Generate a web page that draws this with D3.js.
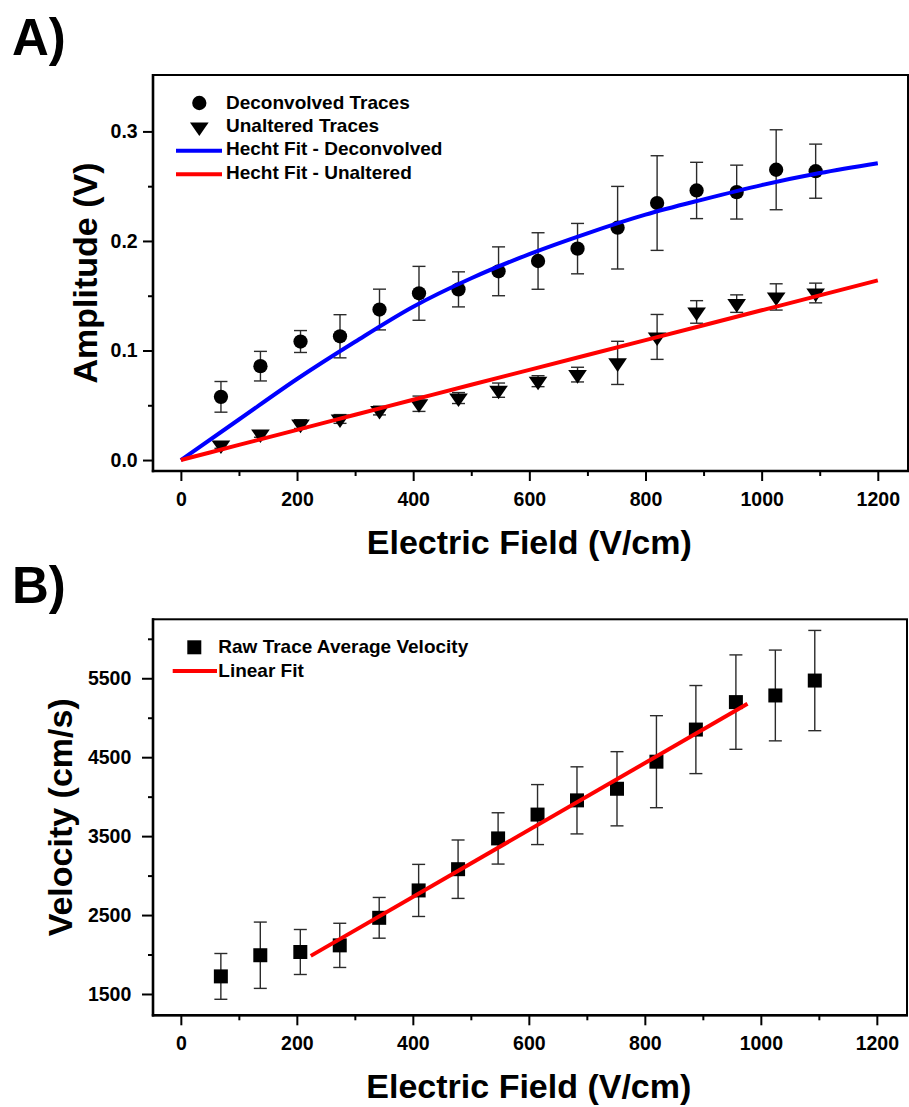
<!DOCTYPE html>
<html>
<head>
<meta charset="utf-8">
<script src="https://cdn.jsdelivr.net/npm/d3@7"></script>
<style>
  html, body { margin: 0; padding: 0; background: #fff; }
  svg { display: block; }
</style>
</head>
<body>
<svg id="chart" width="909" height="1107"></svg>
<script>
// ---- Data -------------------------------------------------------------
// Applied electric field for each measurement (V/cm)
const fieldValues = [69, 137, 206, 274, 342, 410, 478, 547, 615, 683, 752, 820, 888, 957, 1025, 1093];

// Panel A: pulse amplitude (V)
const deconvolvedAmp = [0.0577, 0.0857, 0.1082, 0.1130, 0.1374, 0.1522, 0.1558, 0.1723, 0.1817, 0.1930, 0.2121, 0.2346, 0.2461, 0.2446, 0.2650, 0.2637];
const deconvolvedErr = [0.0140, 0.0135, 0.0100, 0.0197, 0.0186, 0.0246, 0.0160, 0.0223, 0.0258, 0.0230, 0.0377, 0.0432, 0.0257, 0.0246, 0.0365, 0.0247];
const unalteredAmp   = [0.0137, 0.0238, 0.0328, 0.0375, 0.0452, 0.0514, 0.0566, 0.0638, 0.0720, 0.0780, 0.0887, 0.1124, 0.1352, 0.1428, 0.1489, 0.1525];
const unalteredErr   = [0.0030, 0.0030, 0.0040, 0.0040, 0.0040, 0.0070, 0.0050, 0.0065, 0.0050, 0.0067, 0.0197, 0.0205, 0.0103, 0.0080, 0.0120, 0.0090];

// Hecht fit curves, sampled every 100 V/cm
const hechtField       = [0, 100, 200, 300, 400, 500, 600, 700, 800, 900, 1000, 1100, 1200];
const hechtDeconvolved = [0, 0.037, 0.074, 0.108, 0.140, 0.166, 0.188, 0.207, 0.224, 0.238, 0.251, 0.262, 0.271];
const hechtUnaltered   = [0, 0.0138, 0.0276, 0.0413, 0.0550, 0.0687, 0.0823, 0.0959, 0.1095, 0.1231, 0.1367, 0.1503, 0.1640];

// Panel B: raw trace average velocity (cm/s)
const velocity    = [1723, 1991, 2032, 2116, 2465, 2812, 3081, 3471, 3773, 3953, 4100, 4443, 4850, 5198, 5282, 5471];
const velocityErr = [290, 420, 285, 280, 258, 330, 370, 325, 380, 425, 470, 583, 558, 598, 575, 635];

// Linear fit end points
const linearFitField    = [224, 977];
const linearFitVelocity = [1983, 5176];

// Axis ticks
const fieldMajorTicks = [0, 200, 400, 600, 800, 1000, 1200];
const fieldMinorTicks = [100, 300, 500, 700, 900, 1100];
const ampMajorTicks   = [0, 0.1, 0.2, 0.3];
const ampMinorTicks   = [0.05, 0.15, 0.25];
const velMajorTicks   = [1500, 2500, 3500, 4500, 5500];
const velMinorTicks   = [2000, 3000, 4000, 5000, 6000];

// ---- Drawing ----------------------------------------------------------
const FONT = '"Liberation Sans", Arial, Helvetica, sans-serif';
const svg = d3.select("#chart");
svg.append("rect").attr("width", 909).attr("height", 1107).attr("fill", "#fff");

const boxA = { left: 153, right: 908, top: 75, bottom: 471 };
const boxB = { left: 153, right: 907, top: 619.3, bottom: 1015.3 };

const xA = d3.scaleLinear().domain([-48, 1252]).range([boxA.left, boxA.right]);
const yA = d3.scaleLinear().domain([-0.01, 0.3515]).range([boxA.bottom, boxA.top]);
const xB = d3.scaleLinear().domain([-48, 1252]).range([boxB.left, boxB.right]);
const yB = d3.scaleLinear().domain([1230, 6247]).range([boxB.bottom, boxB.top]);

function styleAxis(sel) {
  sel.select(".domain").remove();
  sel.selectAll(".tick line").attr("stroke", "#000").attr("stroke-width", 2);
  sel.selectAll(".tick text")
    .attr("fill", "#000")
    .style("font-family", FONT)
    .style("font-size", "19.5px")
    .style("font-weight", "bold");
}

function drawAxes(box, x, y, yMajor, yMinor, yFormat, yTickLen, yPad) {
  const g = svg.append("g");
  g.append("g").attr("transform", `translate(0,${box.bottom})`)
    .call(d3.axisBottom(x).tickValues(fieldMajorTicks).tickFormat(d3.format("d"))
      .tickSize(10).tickSizeOuter(0).tickPadding(11))
    .call(styleAxis);
  g.append("g").attr("transform", `translate(0,${box.bottom})`)
    .call(d3.axisBottom(x).tickValues(fieldMinorTicks).tickFormat("").tickSize(5).tickSizeOuter(0))
    .call(styleAxis);
  g.append("g").attr("transform", `translate(${box.left},0)`)
    .call(d3.axisLeft(y).tickValues(yMajor).tickFormat(yFormat)
      .tickSize(yTickLen).tickSizeOuter(0).tickPadding(yPad))
    .call(styleAxis);
  g.append("g").attr("transform", `translate(${box.left},0)`)
    .call(d3.axisLeft(y).tickValues(yMinor).tickFormat("").tickSize(5).tickSizeOuter(0))
    .call(styleAxis);

  // frame: top and right thin, left and bottom axis lines heavier
  g.append("rect")
    .attr("x", box.left).attr("y", box.top)
    .attr("width", box.right - box.left).attr("height", box.bottom - box.top)
    .attr("fill", "none").attr("stroke", "#000").attr("stroke-width", 2);
  g.append("line").attr("x1", box.left).attr("x2", box.left)
    .attr("y1", box.top - 1).attr("y2", box.bottom + 1.2)
    .attr("stroke", "#000").attr("stroke-width", 2.6);
  g.append("line").attr("x1", box.left - 1.2).attr("x2", box.right + 1)
    .attr("y1", box.bottom).attr("y2", box.bottom)
    .attr("stroke", "#000").attr("stroke-width", 2.6);
}

function drawErrorBars(g, x, y, xs, vals, errs) {
  const cap = 6.5;
  const bars = g.append("g").attr("stroke", "#2b2b2b").attr("stroke-width", 1.4).attr("fill", "none");
  xs.forEach((f, i) => {
    const px = x(f), top = y(vals[i] + errs[i]), bot = y(vals[i] - errs[i]);
    bars.append("line").attr("x1", px).attr("x2", px).attr("y1", top).attr("y2", bot);
    bars.append("line").attr("x1", px - cap).attr("x2", px + cap).attr("y1", top).attr("y2", top);
    bars.append("line").attr("x1", px - cap).attr("x2", px + cap).attr("y1", bot).attr("y2", bot);
  });
}

const circleSym   = d3.symbol(d3.symbolCircle, 160);
const triangleSym = d3.symbol(d3.symbolTriangle, 125);
const squareSym   = d3.symbol(d3.symbolSquare, 196);
// downward triangle, slightly wider than tall
const TRI_TRANSFORM = " rotate(180) scale(1.1,0.92)";

function drawMarkers(g, x, y, xs, vals, sym, extra) {
  g.append("g").selectAll("path")
    .data(xs.map((f, i) => [f, vals[i]]))
    .join("path")
    .attr("d", sym)
    .attr("transform", d => `translate(${x(d[0])},${y(d[1])})${extra || ""}`)
    .attr("fill", "#000");
}

function drawLine(g, x, y, xs, vals, color, curve) {
  const line = d3.line().x(d => x(d[0])).y(d => y(d[1])).curve(curve || d3.curveLinear);
  g.append("path")
    .datum(xs.map((f, i) => [f, vals[i]]))
    .attr("d", line)
    .attr("fill", "none")
    .attr("stroke", color)
    .attr("stroke-width", 4)
    .attr("stroke-linecap", "butt");
}

function textAt(x, y, str, size, opts = {}) {
  const t = svg.append("text")
    .attr("x", x).attr("y", y)
    .attr("fill", "#000")
    .style("font-family", FONT)
    .style("font-size", size + "px")
    .style("font-weight", "bold")
    .attr("text-anchor", opts.anchor || "start")
    .text(str);
  if (opts.rotate) t.attr("transform", `rotate(-90,${x},${y})`);
  return t;
}

// ---- Panel A: amplitude vs field -------------------------------------
drawAxes(boxA, xA, yA, ampMajorTicks, ampMinorTicks, d3.format(".1f"), 10, 5.3);
const plotA = svg.append("g");
drawErrorBars(plotA, xA, yA, fieldValues, deconvolvedAmp, deconvolvedErr);
drawErrorBars(plotA, xA, yA, fieldValues, unalteredAmp, unalteredErr);
drawMarkers(plotA, xA, yA, fieldValues, deconvolvedAmp, circleSym);
drawMarkers(plotA, xA, yA, fieldValues, unalteredAmp, triangleSym, TRI_TRANSFORM);
drawLine(plotA, xA, yA, hechtField, hechtDeconvolved, "#0000ff", d3.curveMonotoneX);
drawLine(plotA, xA, yA, hechtField, hechtUnaltered, "#ff0000", d3.curveMonotoneX);

textAt(12, 55, "A)", 51);
textAt(xA(600), boxA.bottom + 82.7, "Electric Field (V/cm)", 34, { anchor: "middle" });
textAt(97, (boxA.top + boxA.bottom) / 2, "Amplitude (V)", 34, { anchor: "middle", rotate: true });

// legend A
const legA = svg.append("g");
const legAX = 199.3, legATextX = 226;
const rowsA = [108.5, 132, 155.3, 179];
legA.append("path").attr("d", circleSym).attr("transform", `translate(${legAX},${rowsA[0] - 5.5})`).attr("fill", "#000");
legA.append("path").attr("d", triangleSym).attr("transform", `translate(${legAX},${rowsA[1] - 5})${TRI_TRANSFORM}`).attr("fill", "#000");
legA.append("line").attr("x1", 176).attr("x2", 222).attr("y1", rowsA[2] - 4.5).attr("y2", rowsA[2] - 4.5)
  .attr("stroke", "#0000ff").attr("stroke-width", 4);
legA.append("line").attr("x1", 176).attr("x2", 222).attr("y1", rowsA[3] - 4.7).attr("y2", rowsA[3] - 4.7)
  .attr("stroke", "#ff0000").attr("stroke-width", 4);
["Deconvolved Traces", "Unaltered Traces", "Hecht Fit - Deconvolved", "Hecht Fit - Unaltered"]
  .forEach((s, i) => textAt(legATextX, rowsA[i], s, 19));

// ---- Panel B: velocity vs field --------------------------------------
drawAxes(boxB, xB, yB, velMajorTicks, velMinorTicks, d3.format("d"), 11, 10.7);
const plotB = svg.append("g");
drawErrorBars(plotB, xB, yB, fieldValues, velocity, velocityErr);
drawMarkers(plotB, xB, yB, fieldValues, velocity, squareSym);
drawLine(plotB, xB, yB, linearFitField, linearFitVelocity, "#ff0000");

textAt(12, 603, "B)", 51);
textAt(xB(600), boxB.bottom + 82.7, "Electric Field (V/cm)", 34, { anchor: "middle" });
textAt(72, (boxB.top + boxB.bottom) / 2, "Velocity (cm/s)", 34, { anchor: "middle", rotate: true });

// legend B
const legB = svg.append("g");
legB.append("path").attr("d", squareSym).attr("transform", "translate(194.3,647.3)").attr("fill", "#000");
legB.append("line").attr("x1", 172.7).attr("x2", 217).attr("y1", 671).attr("y2", 671)
  .attr("stroke", "#ff0000").attr("stroke-width", 4);
textAt(218.3, 652.7, "Raw Trace Average Velocity", 19);
textAt(218.3, 676.7, "Linear Fit", 19);
</script>
</body>
</html>
